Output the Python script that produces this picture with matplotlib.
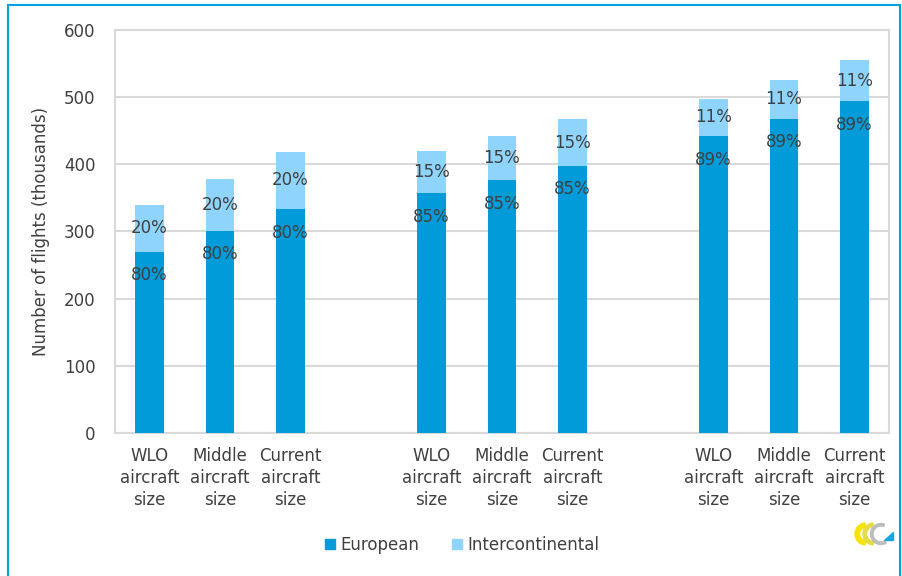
"""Number of flights by aircraft-size scenario, European vs intercontinental (stacked bars)."""
import matplotlib
matplotlib.use("Agg")
import matplotlib.pyplot as plt
from matplotlib.patches import Wedge, Polygon
from matplotlib.lines import Line2D

# --- data (thousands of flights) ---------------------------------------------
categories = ["WLO\naircraft\nsize", "Middle\naircraft\nsize", "Current\naircraft\nsize"] * 3
positions = [0, 1, 2, 4, 5, 6, 8, 9, 10]
european = [270, 301, 333, 357, 376, 398, 442, 468, 494]
total = [340, 378, 419, 420, 442, 467, 498, 526, 555]
intercontinental = [t - e for t, e in zip(total, european)]
eu_share = ["80%", "80%", "80%", "85%", "85%", "85%", "89%", "89%", "89%"]
ic_share = ["20%", "20%", "20%", "15%", "15%", "15%", "11%", "11%", "11%"]

C_EU = "#009bd8"
C_IC = "#8fd4fd"
TXT = "#404040"
GRID = "#d9d9d9"

plt.rcParams["font.family"] = ["DejaVu Sans"]

fig = plt.figure(figsize=(9.03, 5.76), dpi=100)
ax = fig.add_axes([115 / 903, 1 - 433 / 576, 774 / 903, 403 / 576])

ax.bar(positions, european, width=0.4, color=C_EU, zorder=3)
ax.bar(positions, intercontinental, width=0.4, bottom=european, color=C_IC, zorder=3)

for x, e, i, se, si in zip(positions, european, intercontinental, eu_share, ic_share):
    ax.text(x, e - 35, se, ha="center", va="center", fontsize=12, color=TXT, zorder=4)
    ax.text(x, e + i / 2, si, ha="center", va="center", fontsize=12, color=TXT, zorder=4)

ax.set_xlim(-0.49, 10.49)
ax.set_ylim(0, 600)
ax.set_yticks(range(0, 601, 100))
ax.set_xticks(positions)
ax.set_xticklabels(categories, linespacing=1.3)
ax.tick_params(axis="both", length=0, labelsize=12, colors=TXT)
ax.tick_params(axis="y", pad=14)
ax.tick_params(axis="x", pad=10)
ax.yaxis.grid(True, color=GRID, linewidth=1.5, zorder=0)
ax.set_axisbelow(True)
for s in ax.spines.values():
    s.set_color(GRID)
    s.set_linewidth(1.5)
ax.set_ylabel("Number of flights (thousands)", fontsize=12, color=TXT, labelpad=10)

handles = [plt.Rectangle((0, 0), 1, 1, color=C_EU), plt.Rectangle((0, 0), 1, 1, color=C_IC)]
fig.legend(handles, ["European", "Intercontinental"], loc="center",
           bbox_to_anchor=(462 / 903, 1 - 545 / 576), ncol=2, frameon=False,
           fontsize=12, labelcolor=TXT, handlelength=0.6, handleheight=0.6,
           handletextpad=0.3, columnspacing=2.0)

# outer frame
for xs, ys in [((8 / 903, 8 / 903), (0, 1 - 5 / 576)),
               ((8 / 903, 900 / 903), (1 - 5 / 576, 1 - 5 / 576)),
               ((900 / 903, 900 / 903), (1 - 5 / 576, 0))]:
    fig.add_artist(Line2D(xs, ys, color="#00a3dd", linewidth=1.5, transform=fig.transFigure))

# small logo, bottom right
lax = fig.add_axes([853 / 903, 1 - 550 / 576, 42 / 903, 32 / 576])
lax.set_xlim(0, 42)
lax.set_ylim(0, 32)
lax.axis("off")
lax.add_patch(Wedge((13, 16), 11, 95, 265, width=4.5, color="#f5e400"))
lax.add_patch(Wedge((21, 16), 11, 95, 265, width=3.5, color="#e6db45"))
lax.add_patch(Wedge((28, 16), 10.5, 70, 300, width=2.5, color="#bdbdbd"))
lax.add_patch(Polygon([[31, 10], [40, 10], [40, 18]], color="#1aa3e0"))

fig.savefig("out.png", dpi=100)
